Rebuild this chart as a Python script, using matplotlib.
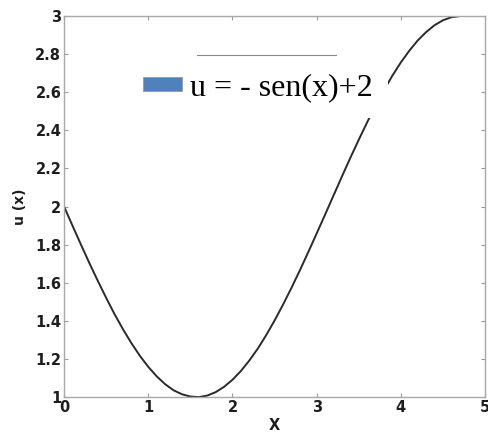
import matplotlib
matplotlib.use("Agg")
from matplotlib import pyplot as plt
from matplotlib.patches import Patch
from matplotlib.lines import Line2D


# u(x) = -sen(x) + 2 sampled along x
x_vals = [0.0, 0.1, 0.2, 0.3, 0.4, 0.5, 0.6, 0.7, 0.8, 0.9,
          1.0, 1.1, 1.2, 1.3, 1.4, 1.5, 1.6, 1.7, 1.8, 1.9,
          2.0, 2.1, 2.2, 2.3, 2.4, 2.5, 2.6, 2.7, 2.8, 2.9,
          3.0, 3.1, 3.2, 3.3, 3.4, 3.5, 3.6, 3.7, 3.8, 3.9,
          4.0, 4.1, 4.2, 4.3, 4.4, 4.5, 4.6, 4.7]
u_vals = [2.000, 1.900, 1.801, 1.704, 1.611, 1.521, 1.435, 1.356, 1.283, 1.217,
          1.159, 1.109, 1.068, 1.036, 1.015, 1.003, 1.000, 1.008, 1.026, 1.054,
          1.091, 1.137, 1.192, 1.254, 1.325, 1.402, 1.485, 1.573, 1.665, 1.761,
          1.859, 1.958, 2.058, 2.158, 2.256, 2.351, 2.443, 2.530, 2.612, 2.688,
          2.757, 2.818, 2.872, 2.916, 2.952, 2.978, 2.994, 3.000]

x_ticks = [0, 1, 2, 3, 4, 5]
y_ticks = [1, 1.2, 1.4, 1.6, 1.8, 2, 2.2, 2.4, 2.6, 2.8, 3]
legend_label = "u = - sen(x)+2"


fig = plt.figure(figsize=(4.89, 4.34), dpi=100)
ax = fig.add_axes([0.131, 0.085, 0.861, 0.878])

ax.plot(x_vals, u_vals, color="#2a2a2a", linewidth=1.4)

ax.set_xlim(0, 5)
ax.set_ylim(1, 3)
ax.set_xticks(x_ticks)
ax.set_yticks(y_ticks)
ax.set_xticklabels([str(t) for t in x_ticks])
ax.set_yticklabels(["1", "1.2", "1.4", "1.6", "1.8", "2", "2.2", "2.4", "2.6", "2.8", "3"])

ax.tick_params(direction="in", length=3, width=0.8, color="#9a9a9a",
               top=True, right=True, labelsize=10.5, labelcolor="#1e1e1e", pad=2)
for lbl in ax.get_xticklabels() + ax.get_yticklabels():
    lbl.set_fontweight("bold")
for sp in ax.spines.values():
    sp.set_color("#a8a8a8")
    sp.set_linewidth(1.0)

ax.set_xlabel("X", fontsize=10.5, fontweight="bold", color="#1e1e1e", labelpad=2)
ax.set_ylabel("u (x)", fontsize=10, fontweight="bold", color="#1e1e1e", labelpad=6)

# legend box with white background hiding part of the curve
handle = Patch(facecolor="#4f81bd", edgecolor="#9a9a9a", linewidth=0.6)
leg = ax.legend([handle], [legend_label], loc="lower right",
                bbox_to_anchor=(0.770, 0.732), frameon=True, fancybox=False,
                prop={"family": "Liberation Serif", "size": 23},
                handlelength=1.2, handleheight=0.28, handletextpad=0.25,
                borderpad=0.5, borderaxespad=0)
leg.get_frame().set_facecolor("white")
leg.get_frame().set_edgecolor("none")
leg.get_frame().set_alpha(1)

# thin rule above the legend entry
ax.add_line(Line2D([0.316, 0.646], [0.898, 0.898], transform=ax.transAxes,
                   color="#8a8a8a", linewidth=0.8))

fig.savefig("out.png", dpi=100)
